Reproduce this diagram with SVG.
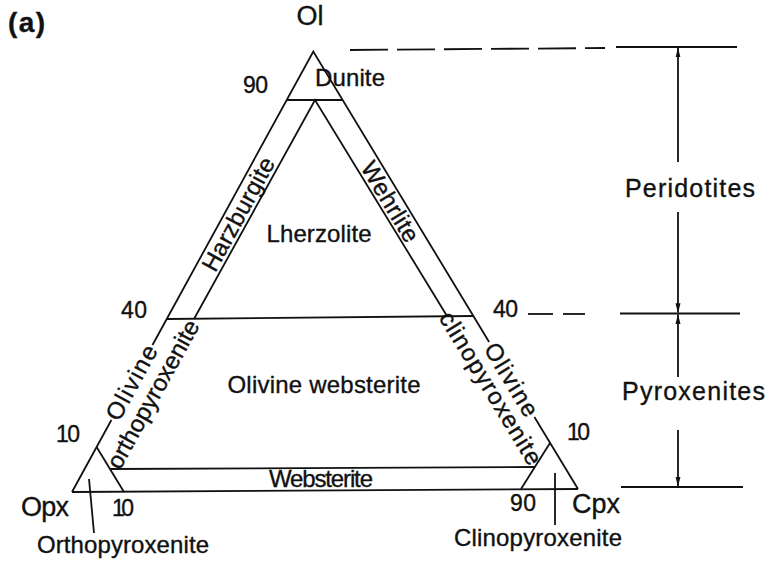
<svg xmlns="http://www.w3.org/2000/svg" width="769" height="562" viewBox="0 0 769 562">
  <style>
    .ln { stroke: #111; stroke-width: 1.8; fill: none; stroke-linecap: butt; }
    .dash { stroke: #111; stroke-width: 1.8; fill: none; stroke-dasharray: 38 9; }
    text { font-family: "Liberation Sans", Arial, Helvetica, sans-serif; fill: #111; stroke: #111; stroke-width: 0.35; }
    .lbl { font-size: 24px; }
    .big { font-size: 27px; }
    .num { font-size: 23px; }
    .mid { text-anchor: middle; dominant-baseline: central; }
  </style>
  <defs>
    <marker id="head" markerUnits="userSpaceOnUse" markerWidth="10" markerHeight="16" refX="15" refY="4" orient="auto" viewBox="0 0 16 8">
      <path d="M0,0 L16,4 L0,8 Z" fill="#111"/>
    </marker>
  </defs>

  <rect width="769" height="562" fill="#fff"/>

  <text x="8" y="32" font-size="28" font-weight="bold" textLength="37">(a)</text>

  <!-- ternary frame Ol (apex) - Opx (left) - Cpx (right) -->
  <g id="frame">
    <polyline class="ln" points="152.5,345 313.3,51.5 489.1,342"/>
    <line class="ln" x1="111.4" y1="420" x2="72" y2="492"/>
    <line class="ln" x1="534.4" y1="417" x2="578" y2="489"/>
    <line class="ln" x1="72" y1="492" x2="578" y2="489"/>
  </g>

  <!-- field boundaries -->
  <g id="fields">
    <line class="ln" x1="287" y1="100" x2="342" y2="100"/>
    <polyline class="ln" points="194,319 315,100 447,316"/>
    <line class="ln" x1="167" y1="319" x2="473" y2="316"/>
    <line class="ln" x1="96.6" y1="447" x2="124" y2="492"/>
    <line class="ln" x1="550" y1="443" x2="521" y2="489"/>
    <line class="ln" x1="110.2" y1="469" x2="534.9" y2="467"/>
  </g>

  <!-- apex labels and scale ticks -->
  <g id="corners">
    <text class="big" x="310" y="25" text-anchor="middle">Ol</text>
    <text class="big" x="21" y="516" textLength="48">Opx</text>
    <text class="big" x="572" y="513" textLength="48">Cpx</text>
    <text class="num" x="243" y="93" textLength="25">90</text>
    <text class="num" x="121" y="318" textLength="26">40</text>
    <text class="num" x="56" y="442" textLength="24">10</text>
    <text class="num" x="493" y="317" textLength="25">40</text>
    <text class="num" x="567" y="440" textLength="23">10</text>
    <text class="num" x="112" y="516" textLength="22">10</text>
    <text class="num" x="510" y="511" textLength="26">90</text>
  </g>

  <!-- rock names -->
  <g id="names">
    <text class="lbl" x="315" y="86" textLength="70">Dunite</text>
    <text class="lbl" x="319" y="241.5" text-anchor="middle" textLength="105">Lherzolite</text>
    <text class="lbl" x="324" y="393" text-anchor="middle" textLength="193">Olivine websterite</text>
    <text class="lbl" x="321" y="487" text-anchor="middle" font-size="22" textLength="104">Websterite</text>
    <text class="lbl mid" transform="translate(238,214) rotate(-61.3)" textLength="126">Harzburgite</text>
    <text class="lbl mid" transform="translate(390.5,201.5) rotate(58.8)" textLength="90">Wehrlite</text>
    <text class="lbl mid" transform="translate(131.2,382.5) rotate(-61.3)" textLength="82">Olivine</text>
    <text class="lbl mid" transform="translate(152.6,394) rotate(-61.1)" textLength="166">orthopyroxenite</text>
    <text class="lbl mid" transform="translate(511.7,379.5) rotate(58.8)" textLength="82">Olivine</text>
    <text class="lbl mid" transform="translate(491,388) rotate(58.6)" textLength="175">clinopyroxenite</text>
    <text class="lbl" x="37" y="553" textLength="172">Orthopyroxenite</text>
    <text class="lbl" x="454" y="546" textLength="168">Clinopyroxenite</text>
  </g>

  <!-- leader lines to the corner fields -->
  <g id="leaders">
    <line class="ln" x1="89" y1="479" x2="94" y2="533"/>
    <line class="ln" x1="555" y1="473" x2="555" y2="525"/>
  </g>

  <!-- olivine-content ranges on the right -->
  <g id="ranges">
    <line class="dash" x1="350" y1="50" x2="605" y2="48"/>
    <line class="ln" x1="616" y1="47" x2="737" y2="47"/>
    <line class="ln" x1="528" y1="314" x2="553" y2="314"/>
    <line class="ln" x1="563" y1="314" x2="585" y2="314"/>
    <line class="ln" x1="620" y1="313.5" x2="740" y2="313.5"/>
    <line class="ln" x1="621" y1="487" x2="743" y2="487"/>
    <line class="ln" x1="678" y1="162" x2="678" y2="48" marker-end="url(#head)"/>
    <line class="ln" x1="678" y1="212" x2="678" y2="312.5" marker-end="url(#head)"/>
    <line class="ln" x1="678" y1="377" x2="678" y2="314.5" marker-end="url(#head)"/>
    <line class="ln" x1="678" y1="430" x2="678" y2="486" marker-end="url(#head)"/>
    <text x="625" y="197" font-size="25" textLength="130">Peridotites</text>
    <text x="622" y="400" font-size="25" textLength="143">Pyroxenites</text>
  </g>
</svg>
